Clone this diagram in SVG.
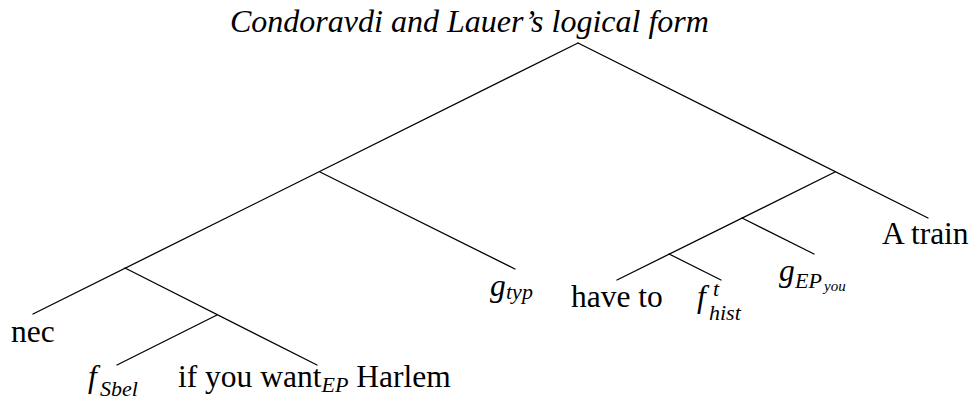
<svg xmlns="http://www.w3.org/2000/svg" width="976" height="402" viewBox="0 0 976 402">
<style>
.t{font-family:"Liberation Serif","Times New Roman",serif;font-size:31.5px;fill:#000}
.i{font-style:italic}
.sub{font-size:22px;font-style:italic}
.ss{font-size:15px;font-style:italic}
.e{stroke:#000;stroke-width:1.3;fill:none;stroke-linecap:round}
</style>
<rect width="976" height="402" fill="#fff"/>
<text id="title" class="t i" x="230" y="32" style="font-size:32px">Condoravdi and Lauer’s logical form</text>
<g id="edges">
<line class="e" x1="578" y1="43" x2="33" y2="314"/>
<line class="e" x1="578" y1="43" x2="928" y2="218"/>
<line class="e" x1="320" y1="172" x2="515" y2="269"/>
<line class="e" x1="125" y1="268" x2="317" y2="365"/>
<line class="e" x1="217" y1="315" x2="117" y2="365"/>
<line class="e" x1="835" y1="172" x2="617" y2="280"/>
<line class="e" x1="669" y1="254" x2="721" y2="280"/>
<line class="e" x1="742" y1="218" x2="814" y2="254"/>
</g>
<g id="n-nec"><text class="t" x="11" y="342">nec</text></g>
<g id="n-fsbel"><text class="t" x="88" y="387"><tspan class="i">f</tspan><tspan class="sub" x="100" y="396">Sbel</tspan></text></g>
<g id="n-ifyouwant"><text class="t" x="178" y="387">if you want<tspan class="sub" y="392">EP</tspan><tspan y="387"> Harlem</tspan></text></g>
<g id="n-gtyp"><text class="t" x="490" y="296"><tspan class="i">g</tspan><tspan class="sub" x="506" y="299">typ</tspan></text></g>
<g id="n-haveto"><text class="t" x="571" y="307">have to</text></g>
<g id="n-fhist"><text class="t" x="697" y="307"><tspan class="i">f</tspan><tspan class="sub" x="713" y="296">t</tspan><tspan class="sub" x="709" y="320">hist</tspan></text></g>
<g id="n-gep"><text class="t" x="779" y="281"><tspan class="i">g</tspan><tspan class="sub" x="795" y="288">EP</tspan><tspan class="ss" x="824" y="291">you</tspan></text></g>
<g id="n-atrain"><text class="t" x="882" y="244">A train</text></g>
</svg>
